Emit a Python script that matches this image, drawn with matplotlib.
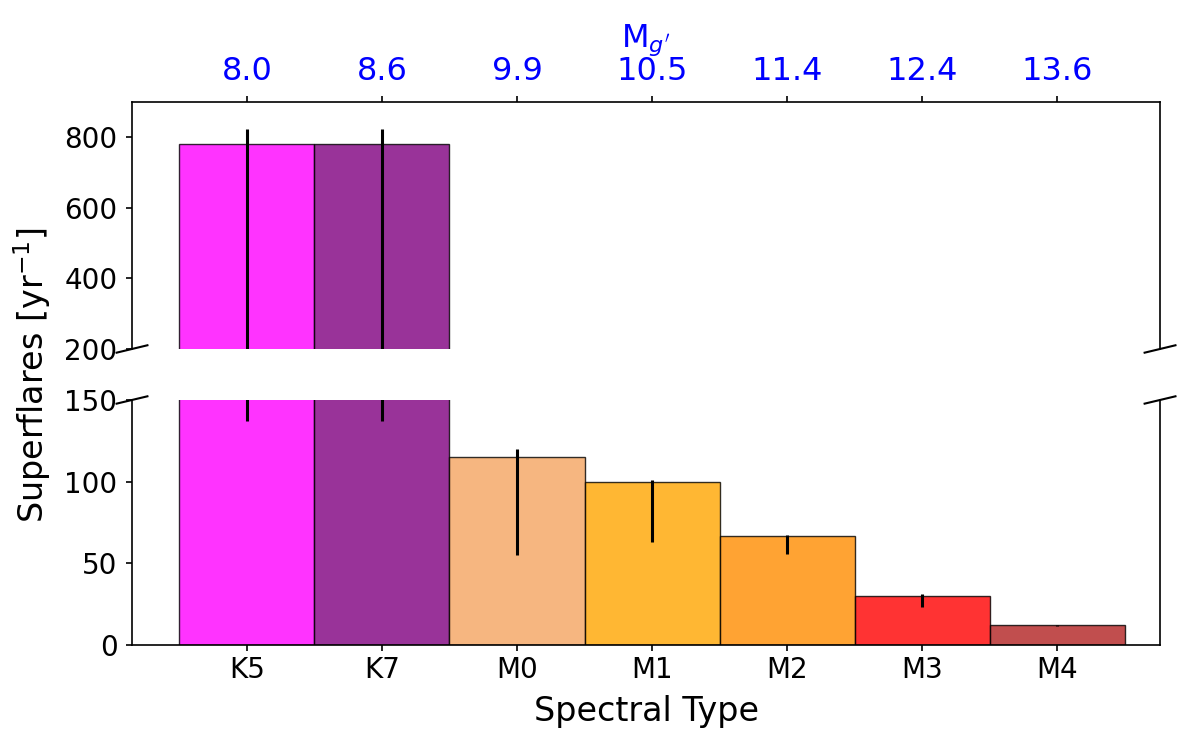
import numpy as np
import matplotlib
matplotlib.use('Agg')
import matplotlib.pyplot as plt

spec = ['K5', 'K7', 'M0', 'M1', 'M2', 'M3', 'M4']
mag = ['8.0', '8.6', '9.9', '10.5', '11.4', '12.4', '13.6']
rate = [780, 780, 115, 100, 67, 30, 12]
err_lo = [643, 643, 60, 37, 11, 6.5, 0.5]
err_hi = [43, 43, 5, 1, 0.5, 1, 0.5]
cols = ['magenta', 'purple', 'sandybrown', 'orange', 'darkorange', 'red', 'firebrick']

x = np.arange(len(spec))
fig = plt.figure(figsize=(12, 7.5), dpi=100, facecolor='w')
ax1 = fig.add_axes([0.11, 0.5347, 0.8567, 0.3293])
ax2 = fig.add_axes([0.11, 0.14, 0.8567, 0.3267])

for ax in (ax1, ax2):
    ax.bar(x, rate, width=1.0, color=cols, alpha=0.8, edgecolor='k', linewidth=1.0)
    ax.errorbar(x, rate, yerr=[err_lo, err_hi], fmt='none', ecolor='k', elinewidth=2.2, capsize=0)
    ax.set_xlim(-0.85, 6.76)
    ax.tick_params(labelsize=20, length=4.5, width=1.2)
    ax.tick_params(axis='y', pad=6)
    for s in ax.spines.values():
        s.set_linewidth(1.2)

ax1.set_ylim(200, 900)
ax2.set_ylim(0, 150)
ax1.set_yticks([200, 400, 600, 800])
ax2.set_yticks([0, 50, 100, 150])

ax1.spines['bottom'].set_visible(False)
ax2.spines['top'].set_visible(False)
ax1.xaxis.tick_top()
ax1.xaxis.set_label_position('top')
ax1.set_xticks(x)
ax1.set_xticklabels(mag, color='blue', fontsize=23)
ax1.tick_params(axis='x', pad=6)
ax1.set_xlabel("M$_{g'}$", color='blue', fontsize=23, labelpad=7)
ax2.xaxis.tick_bottom()
ax2.set_xticks(x)
ax2.set_xticklabels(spec)
ax2.set_xlabel('Spectral Type', fontsize=24, labelpad=8)
fig.text(0.027, 0.5, 'Superflares [yr$^{-1}$]', rotation=90, va='center', ha='center', fontsize=24)

# break marks
d = .015
kw = dict(transform=ax1.transAxes, color='k', clip_on=False, lw=1.5)
ax1.plot((-d, +d), (-d, +d), **kw)
ax1.plot((1 - d, 1 + d), (-d, +d), **kw)
kw.update(transform=ax2.transAxes)
ax2.plot((-d, +d), (1 - d, 1 + d), **kw)
ax2.plot((1 - d, 1 + d), (1 - d, 1 + d), **kw)

fig.savefig('out.png', dpi=100)
